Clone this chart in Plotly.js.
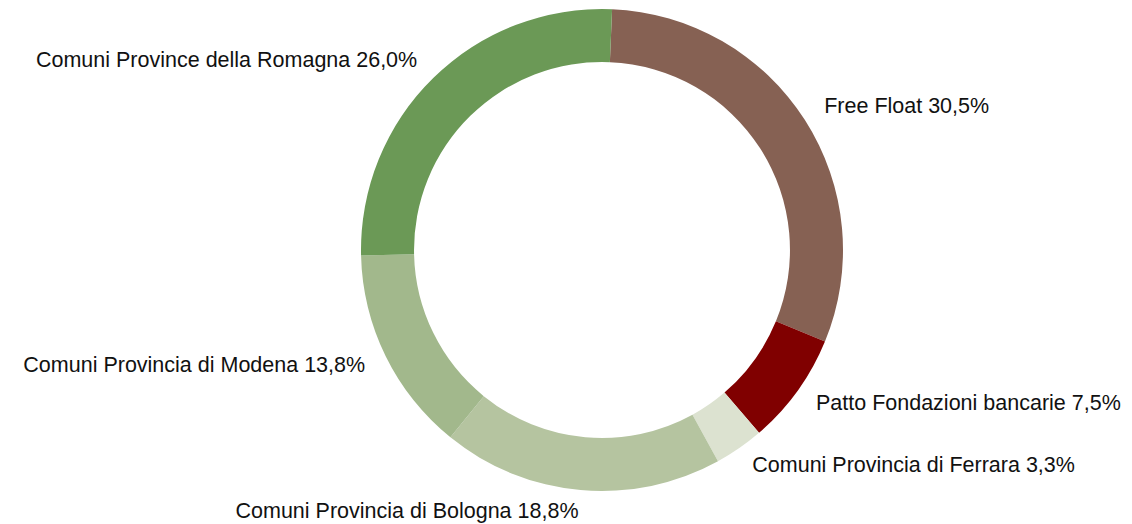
<!DOCTYPE html>
<html>
<head>
<meta charset="utf-8">
<script src="https://cdn.plot.ly/plotly-3.0.1.min.js"></script>
<style>html,body{margin:0;padding:0;background:#fff;}#chart{width:1132px;height:524px;}</style>
</head>
<body>
<div id="chart"></div>
<script>
const labels = ["Free Float", "Patto Fondazioni bancarie", "Comuni Provincia di Ferrara", "Comuni Provincia di Bologna", "Comuni Provincia di Modena", "Comuni Province della Romagna"];
const values = [30.5, 7.5, 3.3, 18.8, 13.8, 26.0];
const colors = ["#866153", "#800000", "#dce2d0", "#b5c4a0", "#a2b88c", "#6b9956"];

// geometry (style)
const W = 1132, H = 524;
const CX = 602, CY = 250, R = 241;   // donut centre and outer radius in px
const startAngle = 2.4;              // degrees clockwise from 12 o'clock
const labelRadius = 1.095;           // relative to outer radius
const FONT = "Liberation Sans, Arial, Helvetica, sans-serif";

const dom = {x: [(CX - R) / W, (CX + R) / W], y: [(H - CY - R) / H, (H - CY + R) / H]};

// label angles derived from the values
const total = values.reduce((a, b) => a + b, 0);
let cum = 0;
const thetas = values.map(v => { const t = startAngle + (cum + v / 2) / total * 360; cum += v; return t; });
const rad = thetas.map(t => t * Math.PI / 180);
const positions = rad.map(a => Math.sin(a) >= 0 ? "middle right" : "middle left");
const texts = labels.map((l, i) => l + " " + values[i].toFixed(1).replace(".", ",") + "%");

const pie = {
  type: "pie",
  labels: labels,
  values: values,
  sort: false,
  direction: "clockwise",
  rotation: startAngle,
  hole: 0.78,
  marker: {colors: colors, line: {width: 0}},
  textinfo: "none",
  domain: dom,
  showlegend: false,
  hoverinfo: "label+value"
};

const lbl = {
  type: "scatter",
  x: rad.map(a => labelRadius * Math.sin(a)),
  y: rad.map(a => labelRadius * Math.cos(a)),
  mode: "text",
  text: texts,
  textposition: positions,
  textfont: {family: FONT, size: 21.5, color: "#111"},
  cliponaxis: false,
  showlegend: false,
  hoverinfo: "skip"
};

const layout = {
  width: W, height: H,
  margin: {l: 0, r: 0, t: 0, b: 0},
  paper_bgcolor: "#fff",
  plot_bgcolor: "rgba(0,0,0,0)",
  showlegend: false,
  xaxis: {visible: false, range: [-CX / R, (W - CX) / R], fixedrange: true},
  yaxis: {visible: false, range: [-(H - CY) / R, CY / R], fixedrange: true}
};
Plotly.newPlot("chart", [pie, lbl], layout, {displayModeBar: false, staticPlot: true});
</script>
</body>
</html>
